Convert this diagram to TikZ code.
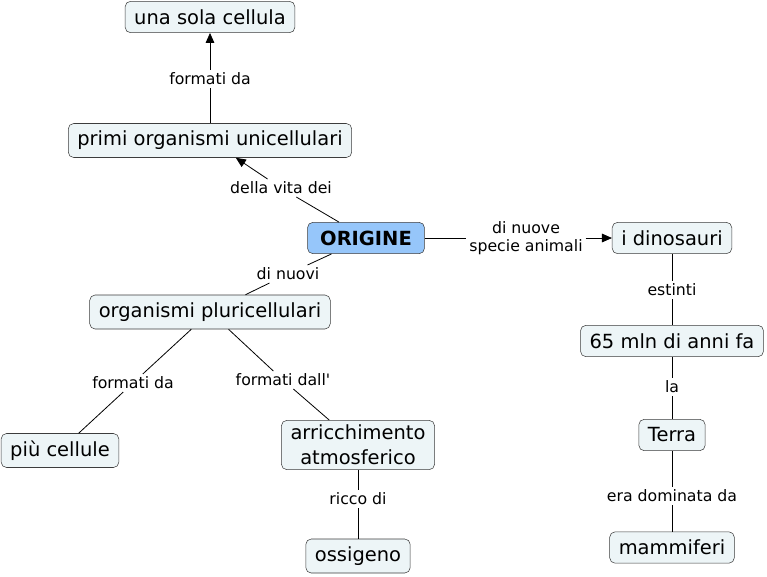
\documentclass[tikz,border=0pt]{standalone}
\usepackage{fontspec}
\setmainfont{DejaVu Sans}
\usetikzlibrary{arrows.meta}
\definecolor{cfill}{RGB}{237,245,247}
\definecolor{ofill}{RGB}{150,198,250}
\definecolor{cdraw}{RGB}{60,60,60}
\tikzset{
  concept/.style={draw=cdraw, fill=cfill, rounded corners=4pt, font=\fontsize{14.6}{17}\selectfont, inner xsep=6.8pt, minimum height=23.5pt, align=center},
  tallc/.style={minimum height=25.5pt},
  lab/.style={font=\fontsize{11.8}{13.5}\selectfont, inner sep=2pt, align=center},
  conn/.style={draw=black, line width=0.6pt},
  arr/.style={conn, -{Triangle[length=7.5pt,width=6.5pt]}}
}
\begin{document}
\begin{tikzpicture}[x=0.75pt,y=-0.75pt]
\useasboundingbox (0,0) rectangle (767,576);
\node[concept] (sola) at (210,17) {una sola cellula};
\node[concept, tallc] (primi) at (210,140.5) {primi organismi unicellulari};
\node[concept, fill=ofill, inner xsep=9.5pt, font=\fontsize{14.6}{17}\selectfont\bfseries] (orig) at (366,238) {ORIGINE};
\node[concept] (dino) at (672,238) {i dinosauri};
\node[concept, tallc] (pluri) at (210,312) {organismi pluricellulari};
\node[concept] (mln) at (672,341) {65 mln di anni fa};
\node[concept, tallc] (piu) at (60,450.5) {più cellule};
\node[concept, font=\fontsize{14.6}{19}\selectfont] (arr) at (358,445) {arricchimento\\atmosferico};
\node[concept] (terra) at (672,435) {Terra};
\node[concept, tallc] (oss) at (358,556) {ossigeno};
\node[concept] (mamm) at (672,547.5) {mammiferi};

\node[lab] (l1) at (210,79) {formati da};
\node[lab] (l2) at (281,188) {della vita dei};
\node[lab] (l3) at (526,238) {di nuove\\specie animali};
\node[lab] (l4) at (288,274) {di nuovi};
\node[lab] (l5) at (672,290) {estinti};
\node[lab] (l6) at (133,383) {formati da};
\node[lab] (l7) at (283,380) {formati dall\textquotesingle};
\node[lab] (l8) at (672,387) {la};
\node[lab] (l9) at (358,499) {ricco di};
\node[lab] (l10) at (672,496) {era dominata da};

\draw[conn] (primi) -- (l1);
\draw[arr] (l1) -- (sola);
\draw[conn] (orig) -- (l2);
\draw[arr] (l2) -- (primi);
\draw[conn] (orig) -- (l3);
\draw[arr] (l3) -- (dino);
\draw[conn] (orig) -- (l4);
\draw[conn] (l4) -- (pluri);
\draw[conn] (dino) -- (l5);
\draw[conn] (l5) -- (mln);
\draw[conn] (pluri) -- (l6);
\draw[conn] (l6) -- (piu);
\draw[conn] (pluri) -- (l7);
\draw[conn] (l7) -- (arr);
\draw[conn] (mln) -- (l8);
\draw[conn] (l8) -- (terra);
\draw[conn] (arr) -- (l9);
\draw[conn] (l9) -- (oss);
\draw[conn] (terra) -- (l10);
\draw[conn] (l10) -- (mamm);
\end{tikzpicture}
\end{document}
